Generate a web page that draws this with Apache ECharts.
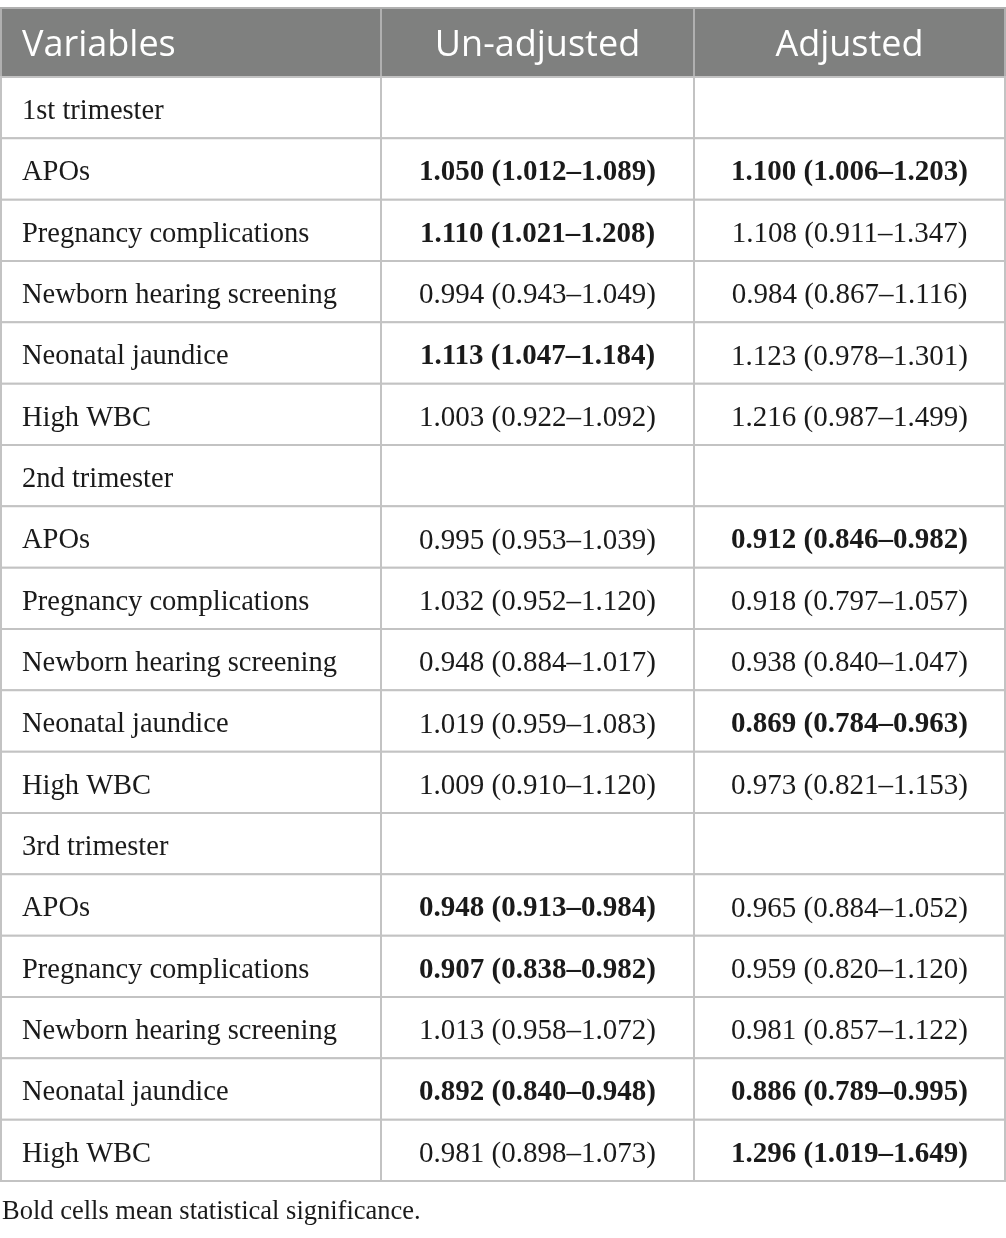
<!DOCTYPE html>
<html>
<head>
<meta charset="utf-8">
<script src="https://cdn.jsdelivr.net/npm/echarts@6/dist/echarts.min.js"></script>
<style>
  html, body { margin: 0; padding: 0; background: #fff; }
  #table-chart { width: 1006px; height: 1238px; }
</style>
</head>
<body>
<div id="table-chart"></div>
<script>
// column titles
var headers = ['Variables', 'Un-adjusted', 'Adjusted'];
var trimesters = ['1st trimester', '2nd trimester', '3rd trimester'];
var outcomes = ['APOs', 'Pregnancy complications', 'Newborn hearing screening', 'Neonatal jaundice', 'High WBC'];

// odds ratios with 95% CI, 5 outcomes per trimester
var unadjOR   = [1.050, 1.110, 0.994, 1.113, 1.003,  0.995, 1.032, 0.948, 1.019, 1.009,  0.948, 0.907, 1.013, 0.892, 0.981];
var unadjLow  = [1.012, 1.021, 0.943, 1.047, 0.922,  0.953, 0.952, 0.884, 0.959, 0.910,  0.913, 0.838, 0.958, 0.840, 0.898];
var unadjHigh = [1.089, 1.208, 1.049, 1.184, 1.092,  1.039, 1.120, 1.017, 1.083, 1.120,  0.984, 0.982, 1.072, 0.948, 1.073];
var adjOR     = [1.100, 1.108, 0.984, 1.123, 1.216,  0.912, 0.918, 0.938, 0.869, 0.973,  0.965, 0.959, 0.981, 0.886, 1.296];
var adjLow    = [1.006, 0.911, 0.867, 0.978, 0.987,  0.846, 0.797, 0.840, 0.784, 0.821,  0.884, 0.820, 0.857, 0.789, 1.019];
var adjHigh   = [1.203, 1.347, 1.116, 1.301, 1.499,  0.982, 1.057, 1.047, 0.963, 1.153,  1.052, 1.120, 1.122, 0.995, 1.649];

var footnote = 'Bold cells mean statistical significance.';

// layout
var colEdges = [1, 381, 694, 1005];
var headerRows = 69 / 61.4;
var serif = '"Liberation Serif", "DejaVu Serif", serif';
var sans = '"Open Sans", "Noto Sans", sans-serif';

function fmt(v, lo, hi) {
    return v.toFixed(3) + ' (' + lo.toFixed(3) + '\u2013' + hi.toFixed(3) + ')';
}

// build the table rows
var rows = [];
for (var t = 0; t < trimesters.length; t++) {
    rows.push({ cells: [trimesters[t], '', ''], bold: [false, false, false] });
    for (var o = 0; o < outcomes.length; o++) {
        var k = t * outcomes.length + o;
        rows.push({
            cells: [outcomes[o], fmt(unadjOR[k], unadjLow[k], unadjHigh[k]), fmt(adjOR[k], adjLow[k], adjHigh[k])],
            bold: [false, unadjLow[k] > 1 || unadjHigh[k] < 1, adjLow[k] > 1 || adjHigh[k] < 1]
        });
    }
}

var cellData = [];
for (var c = 0; c < 3; c++) {
    cellData.push([c, -1]);
    for (var r = 0; r < rows.length; r++) {
        cellData.push([c, r]);
    }
}

var chart = echarts.init(document.getElementById('table-chart'));

function renderCell(params, api) {
    var c = api.value(0);
    var r = api.value(1);
    var isHead = r < 0;
    var p0 = api.coord([colEdges[c], isHead ? -headerRows : r]);
    var p1 = api.coord([colEdges[c + 1], isHead ? 0 : r + 1]);
    var text = isHead ? headers[c] : rows[r].cells[c];
    var bold = !isHead && rows[r].bold[c];
    var left = c === 0;
    var font;
    if (isHead) {
        font = 'normal 36px ' + sans;
    } else if (left) {
        font = 'normal 28.5px ' + serif;
    } else {
        font = (bold ? 'bold ' : 'normal ') + '29px ' + serif;
    }
    return {
        type: 'group',
        children: [{
            type: 'rect',
            shape: { x: p0[0], y: p0[1], width: p1[0] - p0[0], height: p1[1] - p0[1] },
            style: {
                fill: isHead ? '#7f807f' : '#fff',
                stroke: isHead ? '#b0b0b0' : '#c3c3c3',
                lineWidth: 2
            }
        }, {
            type: 'text',
            style: {
                text: text,
                x: left ? p0[0] + 21 : (p0[0] + p1[0]) / 2,
                y: (p0[1] + p1[1]) / 2 + (isHead ? 3 : 4),
                align: left ? 'left' : 'center',
                verticalAlign: 'middle',
                fill: isHead ? '#fff' : '#1a1a1a',
                font: font
            }
        }]
    };
}

var option = {
    animation: false,
    title: {
        text: footnote,
        left: 0,
        top: 1199,
        padding: [0, 0, 0, 2],
        textStyle: { fontFamily: serif, fontWeight: 'normal', fontSize: 26.5, color: '#1a1a1a' }
    },
    grid: { left: 0, right: 0, top: 77, bottom: 57 },
    xAxis: { type: 'value', min: 0, max: 1006, show: false },
    yAxis: { type: 'value', min: 0, max: 18, inverse: true, show: false },
    series: [{
        type: 'custom',
        clip: false,
        renderItem: renderCell,
        data: cellData
    }]
};

chart.setOption(option);
</script>
</body>
</html>
